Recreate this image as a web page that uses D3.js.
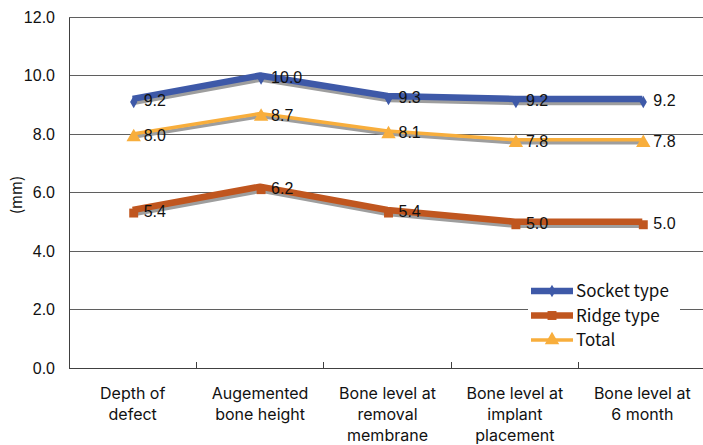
<!DOCTYPE html>
<html>
<head>
<meta charset="utf-8">
<script src="https://cdn.jsdelivr.net/npm/d3@7/dist/d3.min.js"></script>
<style>
  html, body { margin: 0; padding: 0; background: #fff; }
  svg { display: block; }
</style>
</head>
<body>
<svg id="chart" width="703" height="445"></svg>
<script>
// Stage labels along the x axis (each entry is a list of lines)
const categories = [
  ["Depth of", "defect"],
  ["Augemented", "bone height"],
  ["Bone level at", "removal", "membrane"],
  ["Bone level at", "implant", "placement"],
  ["Bone level at", "6 month"]
];
const socketType = [9.2, 10.0, 9.3, 9.2, 9.2];
const ridgeType  = [5.4, 6.2, 5.4, 5.0, 5.0];
const total      = [8.0, 8.7, 8.1, 7.8, 7.8];
const yTicks = [0, 2, 4, 6, 8, 10, 12];
const yLabel = "(mm)";

const seriesList = [
  { name: "Socket type", values: socketType, color: "#3E59A8", width: 6.5, marker: "diamond" },
  { name: "Ridge type",  values: ridgeType,  color: "#C0561F", width: 6.5, marker: "square" },
  { name: "Total",       values: total,      color: "#F8AE3C", width: 3.5, marker: "triangle" }
];

const svg = d3.select("#chart");
const plotLeft = 69, plotRight = 706, plotTop = 17, plotBottom = 368;
const latinFont = "'Liberation Sans', Arial, sans-serif";
const gothicFont = "'Noto Sans CJK JP', 'Noto Sans', sans-serif";
const labelFont = "Inter, 'Noto Sans', sans-serif";

const x = d3.scaleBand().domain(d3.range(categories.length)).range([plotLeft, plotRight]).padding(0);
const y = d3.scaleLinear().domain([0, 12]).range([plotBottom, plotTop]);
const cx = i => x(i) + x.bandwidth() / 2;

// horizontal gridlines
svg.append("g").selectAll("line").data(yTicks.filter(t => t > 0)).join("line")
  .attr("x1", plotLeft).attr("x2", 703)
  .attr("y1", d => y(d)).attr("y2", d => y(d))
  .attr("stroke", "#5f5f5f").attr("stroke-width", 1).attr("shape-rendering", "crispEdges");

// y axis
const yAxis = d3.axisLeft(y).tickValues(yTicks).tickFormat(d3.format(".1f")).tickSize(0).tickPadding(14);
const gy = svg.append("g").attr("transform", `translate(${plotLeft},0)`).call(yAxis);
gy.select(".domain").attr("stroke", "#404040").attr("shape-rendering", "crispEdges");
gy.selectAll("text").attr("font-family", latinFont).attr("font-size", 16).attr("fill", "#111");

// x axis with inner ticks at category boundaries
const xb = svg.append("g");
xb.append("line").attr("x1", plotLeft).attr("x2", 703).attr("y1", plotBottom).attr("y2", plotBottom)
  .attr("stroke", "#404040").attr("shape-rendering", "crispEdges");
xb.selectAll("line.tk").data(d3.range(1, categories.length)).join("line").attr("class", "tk")
  .attr("x1", d => x(d)).attr("x2", d => x(d)).attr("y1", plotBottom).attr("y2", plotBottom - 6)
  .attr("stroke", "#404040").attr("shape-rendering", "crispEdges");

// category labels, one text element per line
const catLines = categories.flatMap((lines, i) => lines.map((l, j) => ({ i, j, l })));
svg.append("g").selectAll("text").data(catLines).join("text")
  .attr("x", d => cx(d.i)).attr("y", d => 399 + d.j * 21)
  .attr("text-anchor", "middle")
  .attr("font-family", labelFont).attr("font-size", 16).attr("fill", "#111")
  .text(d => d.l);

// y axis title
svg.append("text").attr("transform", "translate(22,195) rotate(-90)")
  .attr("text-anchor", "middle").attr("font-family", gothicFont).attr("font-size", 15)
  .attr("fill", "#111").text(yLabel);

// marker shapes
function markerPath(type, size) {
  const sym = type === "diamond" ? d3.symbolDiamond : type === "square" ? d3.symbolSquare : d3.symbolTriangle;
  return d3.symbol().type(sym).size(size)();
}
const markerSize = { diamond: 45, square: 80, triangle: 90 };

const line = d3.line().x((d, i) => cx(i)).y(d => y(d));

// series: gray shadow, line, markers
seriesList.forEach(s => {
  const g = svg.append("g");
  const sh = g.append("g").attr("transform", "translate(1,3)");
  sh.append("path").attr("d", line(s.values)).attr("fill", "none")
    .attr("stroke", "#9e9e9e").attr("stroke-width", s.width).attr("stroke-linejoin", "round");
  sh.selectAll("path.m").data(s.values).join("path").attr("class", "m")
    .attr("transform", (d, i) => `translate(${cx(i)},${y(d)})`)
    .attr("d", markerPath(s.marker, markerSize[s.marker])).attr("fill", "#9e9e9e");
  g.append("path").attr("d", line(s.values)).attr("fill", "none")
    .attr("stroke", s.color).attr("stroke-width", s.width).attr("stroke-linejoin", "round");
  g.selectAll("path.m").data(s.values).join("path").attr("class", "m")
    .attr("transform", (d, i) => `translate(${cx(i)},${y(d)})`)
    .attr("d", markerPath(s.marker, markerSize[s.marker])).attr("fill", s.color);
});

// value labels
seriesList.forEach(s => {
  svg.append("g").selectAll("text").data(s.values).join("text")
    .attr("x", (d, i) => cx(i) + 11).attr("y", d => y(d) + 7)
    .attr("font-family", latinFont).attr("font-size", 16).attr("fill", "#111")
    .text(d => d3.format(".1f")(d));
});

// legend
const lg = svg.append("g");
lg.append("rect").attr("x", 528).attr("y", 279).attr("width", 152).attr("height", 73).attr("fill", "#fff");
seriesList.forEach((s, i) => {
  const ly = 291 + i * 24.5;
  lg.append("line").attr("x1", 531).attr("x2", 573).attr("y1", ly).attr("y2", ly)
    .attr("stroke", s.color).attr("stroke-width", s.width);
  lg.append("path").attr("transform", `translate(552,${ly})`)
    .attr("d", markerPath(s.marker, markerSize[s.marker])).attr("fill", s.color);
  lg.append("text").attr("x", 576).attr("y", ly + 6)
    .attr("font-family", gothicFont).attr("font-size", 17).attr("fill", "#111").text(s.name);
});
</script>
</body>
</html>
